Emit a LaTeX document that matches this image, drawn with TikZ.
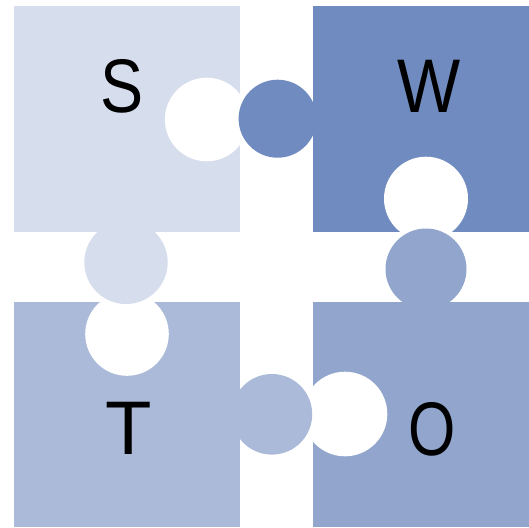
\documentclass[tikz,border=0pt]{standalone}
\usepackage{fontspec}
\setmainfont{Liberation Sans}
\definecolor{cS}{HTML}{D6DDEC}
\definecolor{cW}{HTML}{6F8BBF}
\definecolor{cT}{HTML}{ABBAD9}
\definecolor{cO}{HTML}{92A6CD}
\tikzset{
  piece/.style={fill=#1, draw=none},
  hole/.style={fill=white, draw=none},
  letter/.style={font=\fontsize{76}{76}\selectfont, text=black, inner sep=0pt, anchor=center}
}
\begin{document}
\begin{tikzpicture}[x=1pt,y=-1pt]
\useasboundingbox (0,0) rectangle (529,527);
% squares
\path[piece=cS] (13.5,5.7) rectangle (239.6,231.7);
\path[piece=cW] (313.2,5.7) rectangle (529,231.5);
\path[piece=cT] (13.5,301.7) rectangle (239.6,527);
\path[piece=cO] (313.2,301.7) rectangle (529,527);
% cut-outs
\path[hole] (206.7,119.5) circle (41.8);
\path[hole] (426,198.7) circle (42);
\path[hole] (127,334) circle (41.8);
\path[hole] (345,414) circle (42.3);
% tabs
\path[piece=cW] (277.6,118.7) circle (39);
\path[piece=cO] (426,269) circle (40.5);
\path[piece=cS] (126,262.3) circle (41.7);
\path[piece=cT] (271.9,414.3) circle (40.3);
% letters
\node[letter, xscale=0.85] (s) at (122.5,86) {S};
\node[letter, xscale=0.88] (w) at (429,86.5) {W};
\node[letter] (t) at (129,428.7) {T};
\node[letter, xscale=0.8] (o) at (432,429) {O};
\end{tikzpicture}
\end{document}
